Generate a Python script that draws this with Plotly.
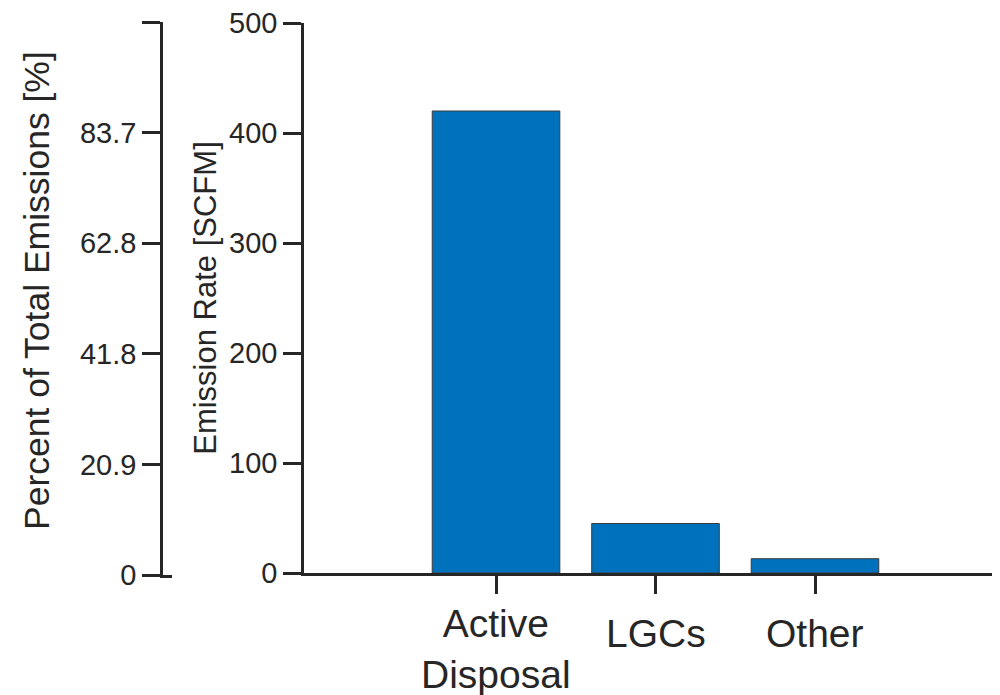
import plotly.graph_objects as go

# ---- data ----
categories = ["Active Disposal", "LGCs", "Other"]
category_labels = ["Active<br>Disposal", "LGCs", "Other"]
emission_rate = [420, 45, 13]          # SCFM
rate_ticks = [0, 100, 200, 300, 400, 500]

total = sum(emission_rate)
percent = [v / total * 100 for v in emission_rate]
pct_tickvals = [t / total * 100 for t in rate_ticks]
pct_ticktext = [f"{v:.1f}" if i < len(rate_ticks) - 1 else "" for i, v in enumerate(pct_tickvals)]
pct_ticktext[0] = "0"

# ---- style ----
W, H = 1000, 695
OX, OY = 8, 8          # default page margin around the plot div
ink = "#262626"
bar_color = "#0071BD"
font_family = "Liberation Sans, Arial, sans-serif"
lw = 2.5

def px_x(p):
    return (p - OX) / W

def px_y(p):
    return (H - (p - OY)) / H

fig = go.Figure()
fig.add_trace(go.Bar(
    x=categories, y=emission_rate, width=0.8,
    marker=dict(color=bar_color, line=dict(color="#3c3c3c", width=1)),
    xaxis="x", yaxis="y", showlegend=False,
))
# invisible companion trace on the percent axis
fig.add_trace(go.Bar(
    x=categories, y=percent, opacity=0, hoverinfo="skip",
    xaxis="x2", yaxis="y2", showlegend=False,
))

fig.update_layout(
    template="none",
    width=W, height=H,
    margin=dict(l=0, r=0, t=0, b=0, autoexpand=False),
    paper_bgcolor="white", plot_bgcolor="rgba(0,0,0,0)",
    font=dict(family=font_family, color=ink),
    xaxis=dict(
        domain=[px_x(304), 1.0], anchor="y", automargin=False,
        type="category", categoryorder="array", categoryarray=categories,
        range=[-1.204, 3.16 + OX / 159.5],
        showline=True, linecolor=ink, linewidth=lw,
        ticks="outside", ticklen=18, tickwidth=lw, tickcolor=ink,
        showticklabels=False, showgrid=False, zeroline=False,
    ),
    yaxis=dict(
        domain=[px_y(573), px_y(23)], anchor="x", automargin=False,
        range=[0, 500], tickvals=rate_ticks,
        showline=True, linecolor=ink, linewidth=lw,
        ticks="outside", ticklen=18, tickwidth=lw, tickcolor=ink,
        tickfont=dict(size=29, color=ink), ticklabeloverflow="allow",
        title=dict(text="Emission Rate [SCFM]", font=dict(size=31, color=ink), standoff=4),
        showgrid=False, zeroline=False,
    ),
    xaxis2=dict(
        domain=[px_x(163), px_x(172)], anchor="y2", automargin=False,
        showline=True, linecolor=ink, linewidth=lw,
        showticklabels=False, ticks="", showgrid=False, zeroline=False,
        fixedrange=True,
    ),
    yaxis2=dict(
        domain=[px_y(575), px_y(22)], anchor="x2", side="left", automargin=False,
        range=[0, 500 / total * 100],
        tickvals=pct_tickvals, ticktext=pct_ticktext,
        showline=True, linecolor=ink, linewidth=lw,
        ticks="outside", ticklen=18, tickwidth=lw, tickcolor=ink,
        tickfont=dict(size=29, color=ink), ticklabeloverflow="allow",
        showgrid=False, zeroline=False,
    ),
)

# percent-axis title
fig.add_annotation(
    x=px_x(37), xref="paper", y=px_y(291), yref="paper",
    text="Percent of Total Emissions [%]", textangle=-90, showarrow=False,
    xanchor="center", yanchor="middle",
    font=dict(size=35.5, color=ink, family=font_family),
)

for cat, lab in zip(categories, category_labels):
    nlines = lab.count("<br>") + 1
    fig.add_annotation(
        x=cat, xref="x", y=px_y(573), yref="paper",
        text=lab, showarrow=False, xanchor="center", yanchor="top",
        yshift=-27 if nlines > 1 else -37,
        font=dict(size=39, color=ink, family=font_family),
    )

fig.write_html("out.html")
